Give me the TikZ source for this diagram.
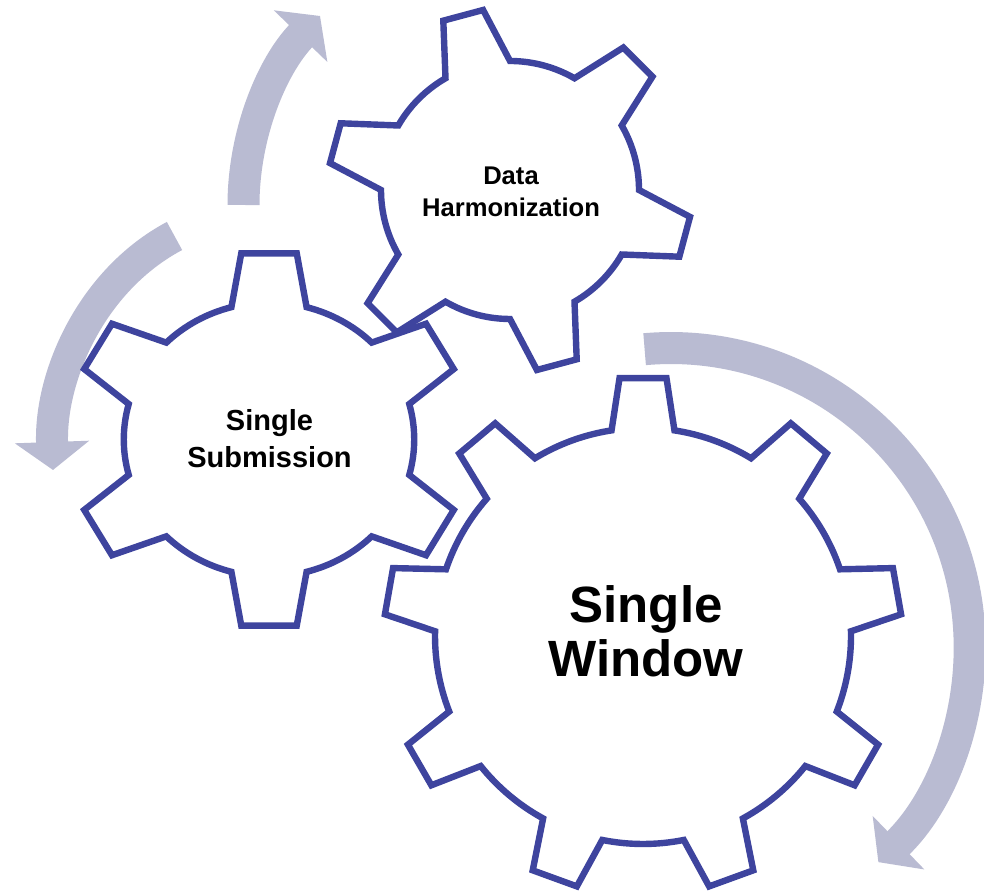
\documentclass[tikz,border=0pt]{standalone}
\usepackage{fontspec}
\setmainfont{Liberation Sans}
\usepackage{xcolor}
\usepackage{tikz}
\usetikzlibrary{arrows.meta,positioning,calc}

\definecolor{gearblue}{RGB}{62,68,158}
\definecolor{flowgray}{RGB}{185,187,210}

% gear outline: #1 options, #2 centre, #3 teeth, #4 root radius, #5 tip radius,
% #6 base half angle, #7 tip half angle, #8 angle of first tooth
\newcommand{\gearline}[8]{%
  \pgfmathsetmacro{\gstep}{360/#3}%
  \draw[shift={(#2)}, #1] ({#8-#6}:#4) \foreach \k in {1,...,#3} { -- ({#8+(\k-1)*\gstep-#7}:#5) -- ({#8+(\k-1)*\gstep+#7}:#5) -- ({#8+(\k-1)*\gstep+#6}:#4) arc[start angle={#8+(\k-1)*\gstep+#6}, end angle={#8+\k*\gstep-#6}, radius=#4] } -- cycle;%
}

\begin{document}
\begin{tikzpicture}[x=0.5pt, y=0.5pt,
    gear/.style={draw=gearblue, line width=3.2pt, fill=white, line join=miter},
    flow/.style={draw=flowgray, line width=16pt, -{Triangle[length=14pt, width=36.5pt]}},
    gearlabel/.style={align=center, text=black, inner sep=0pt}
]
\useasboundingbox (0,0) rectangle (984,893);

% turning arrows
\coordinate (up0) at (243.5,688); \coordinate (up1) at (320,877);
\coordinate (left0) at (174.5,657); \coordinate (left1) at (53,423);
\coordinate (right0) at (644.6,543.8);
\draw[flow] (up0) .. controls (243.5,758) and (271.4,826.6) .. (up1);
\draw[flow] (left0) .. controls (91.5,612.9) and (49.7,516.9) .. (left1);
\draw[flow] (right0) arc[start angle=95, end angle=-46, radius=299];

% gears
\gearline{gear}{643,257}{9}{208}{259}{8.7}{5.2}{90}
\gearline{gear, xscale=1.06}{269,453.5}{6}{137}{188}{15}{8}{30}
\gearline{gear}{510,703}{6}{129}{182}{15}{6.5}{45}

\node[gearlabel, font=\bfseries\fontsize{12.8}{16}\selectfont] (harmon) at (511,701) {Data\\Harmonization};
\node[gearlabel, font=\bfseries\fontsize{14.5}{18.5}\selectfont] (submit) at (269.5,454.5) {Single\\Submission};
\node[gearlabel, font=\bfseries\fontsize{25.5}{27}\selectfont] (window) at (646,262) {Single\\Window};
\end{tikzpicture}
\end{document}
